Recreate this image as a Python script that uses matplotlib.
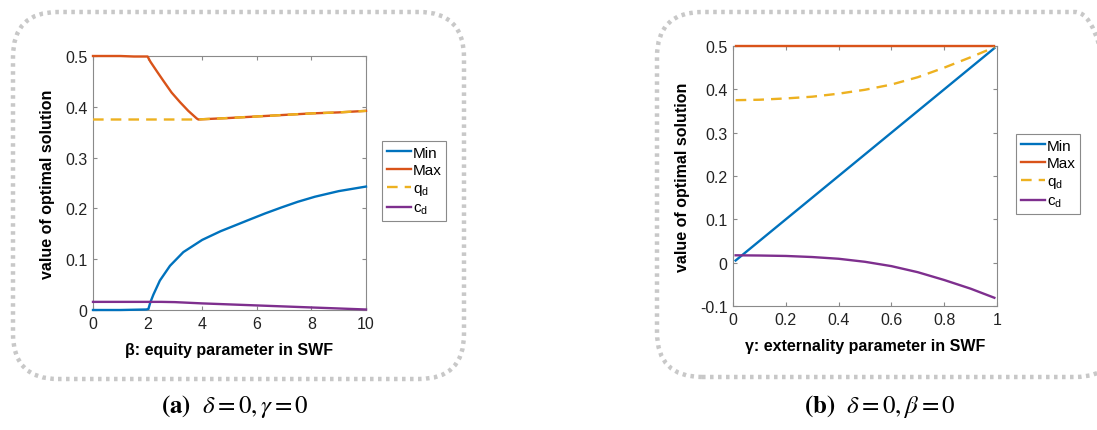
import numpy as np
import matplotlib
matplotlib.use("Agg")
import matplotlib.pyplot as plt
from matplotlib.patches import FancyBboxPatch
from matplotlib.ticker import FormatStrFormatter

plt.rcParams["font.family"] = ["Liberation Sans", "DejaVu Sans"]
plt.rcParams["mathtext.fontset"] = "stix"

# ---- panel (a): beta sweep, delta = 0, gamma = 0 ----
beta_max = [0, 0.5, 1, 1.5, 2.0, 2.1, 2.2, 2.35, 2.58, 2.88, 3.19, 3.49, 3.8, 3.86,
            4, 5, 6, 7, 8, 9, 10]
max_a = [0.5, 0.5, 0.5, 0.499, 0.499, 0.489, 0.481, 0.469, 0.451, 0.428, 0.409, 0.392,
         0.377, 0.375, 0.3755, 0.378, 0.381, 0.384, 0.387, 0.389, 0.392]
beta_q = [0, 1, 2, 3, 3.86, 4, 5, 6, 7, 8, 9, 10]
qd_a = [0.375, 0.375, 0.375, 0.375, 0.375, 0.3755, 0.378, 0.381, 0.384, 0.387, 0.389, 0.392]
beta_min = [0, 1, 1.95, 2.03, 2.1, 2.21, 2.45, 2.82, 3.31, 4.0, 4.67, 5.32, 5.69, 6.3,
            6.91, 7.5, 8.13, 9.0, 10]
min_a = [0.0, 0.0, 0.001, 0.002, 0.015, 0.03, 0.058, 0.087, 0.114, 0.138, 0.155, 0.169,
         0.177, 0.190, 0.202, 0.213, 0.223, 0.234, 0.243]
beta_c = [0, 1, 2, 2.5, 3, 4, 5, 6, 7, 8, 9, 10]
cd_a = [0.016, 0.016, 0.016, 0.016, 0.0155, 0.013, 0.011, 0.009, 0.007, 0.005, 0.003, 0.001]

# ---- panel (b): gamma sweep, delta = 0, beta = 0 ----
gamma_max = [0.01, 0.99]
max_b = [0.5, 0.5]
gamma_min = [0.01, 0.2, 0.4, 0.6, 0.8, 0.99]
min_b = [0.005, 0.1, 0.2, 0.3, 0.4, 0.495]
gamma_q = [0.01, 0.1, 0.2, 0.3, 0.4, 0.5, 0.6, 0.7, 0.8, 0.9, 0.99]
qd_b = [0.375, 0.376, 0.379, 0.383, 0.39, 0.399, 0.411, 0.428, 0.45, 0.474, 0.497]
gamma_c = [0.01, 0.1, 0.2, 0.3, 0.4, 0.5, 0.6, 0.7, 0.8, 0.9, 0.99]
cd_b = [0.017, 0.0165, 0.0155, 0.013, 0.009, 0.002, -0.008, -0.022, -0.04, -0.06, -0.081]

C_MIN, C_MAX, C_Q, C_C = "#0072BD", "#D95319", "#EDB120", "#7E2F8E"
LW = 1.7

fig = plt.figure(figsize=(10.97, 4.31), dpi=100)

# dotted rounded frames (in inches, origin bottom-left)
H = 4.31
for x0, y0, x1, y1 in [(0.13, 0.13, 4.64, 3.80), (6.57, 0.13, 11.20, 3.78)]:
    frame = FancyBboxPatch((x0, H - y1), x1 - x0, y1 - y0,
                           boxstyle="round,pad=0,rounding_size=0.45",
                           transform=fig.dpi_scale_trans, fill=False,
                           edgecolor="#c8c8c8", linewidth=3.2,
                           linestyle=(0, (0.8, 1.0)), clip_on=False)
    fig.patches.append(frame)


def style_axes(ax):
    for s in ax.spines.values():
        s.set_color("#8a8a8a")
        s.set_linewidth(0.8)
    ax.tick_params(direction="in", top=True, right=True, length=3,
                   color="#8a8a8a", labelsize=11.5, labelcolor="#222222", pad=4)
    ax.xaxis.set_major_formatter(FormatStrFormatter("%g"))
    ax.yaxis.set_major_formatter(FormatStrFormatter("%g"))


def add_legend(ax, bbox):
    leg = ax.legend(loc="upper left", bbox_to_anchor=bbox,
                    bbox_transform=fig.transFigure, fontsize=11,
                    handlelength=1.6, handletextpad=0.1, borderpad=0.3,
                    labelspacing=0.25, fancybox=False, framealpha=1,
                    borderaxespad=0)
    leg.get_frame().set_edgecolor("#8a8a8a")
    leg.get_frame().set_linewidth(0.8)


def draw(ax, xs, ys, color, label, ls="-"):
    ax.plot(xs, ys, color=color, lw=LW, ls=ls, label=label, clip_on=False, zorder=3)


# panel (a)
ax1 = fig.add_axes([93 / 1097, 1 - 311 / 431, 273 / 1097, 254 / 431])
draw(ax1, beta_min, min_a, C_MIN, "Min")
draw(ax1, beta_max, max_a, C_MAX, "Max")
draw(ax1, beta_q, qd_a, C_Q, r"q$_\mathregular{d}$", ls=(0, (4.5, 3)))
draw(ax1, beta_c, cd_a, C_C, r"c$_\mathregular{d}$")
ax1.set_xlim(0, 10)
ax1.set_ylim(0, 0.5)
ax1.set_xticks([0, 2, 4, 6, 8, 10])
ax1.set_yticks([0, 0.1, 0.2, 0.3, 0.4, 0.5])
style_axes(ax1)
ax1.set_xlabel("β: equity parameter in SWF", fontweight="bold", fontsize=11.5, labelpad=8)
ax1.set_ylabel("value of optimal solution", fontweight="bold", fontsize=11.5, labelpad=7)
add_legend(ax1, (382 / 1097, 1 - 142 / 431))

# panel (b)
ax2 = fig.add_axes([733 / 1097, 1 - 307 / 431, 264 / 1097, 260 / 431])
draw(ax2, gamma_min, min_b, C_MIN, "Min")
draw(ax2, gamma_max, max_b, C_MAX, "Max")
draw(ax2, gamma_q, qd_b, C_Q, r"q$_\mathregular{d}$", ls=(0, (4.5, 3)))
draw(ax2, gamma_c, cd_b, C_C, r"c$_\mathregular{d}$")
ax2.set_xlim(0, 1)
ax2.set_ylim(-0.1, 0.5)
ax2.set_xticks([0, 0.2, 0.4, 0.6, 0.8, 1])
ax2.set_yticks([-0.1, 0, 0.1, 0.2, 0.3, 0.4, 0.5])
style_axes(ax2)
ax2.set_xlabel("γ: externality parameter in SWF", fontweight="bold", fontsize=11.5, labelpad=8)
ax2.set_ylabel("value of optimal solution", fontweight="bold", fontsize=11.5, labelpad=7)
add_legend(ax2, (1016 / 1097, 1 - 135 / 431))

# captions
fig.text(235 / 1097, 1 - 407 / 431, r"$\mathbf{(a)}\ \ \delta = 0, \gamma = 0$",
         ha="center", va="center", fontsize=18)
fig.text(880 / 1097, 1 - 407 / 431, r"$\mathbf{(b)}\ \ \delta = 0, \beta = 0$",
         ha="center", va="center", fontsize=18)

fig.savefig("out.png", dpi=100)
